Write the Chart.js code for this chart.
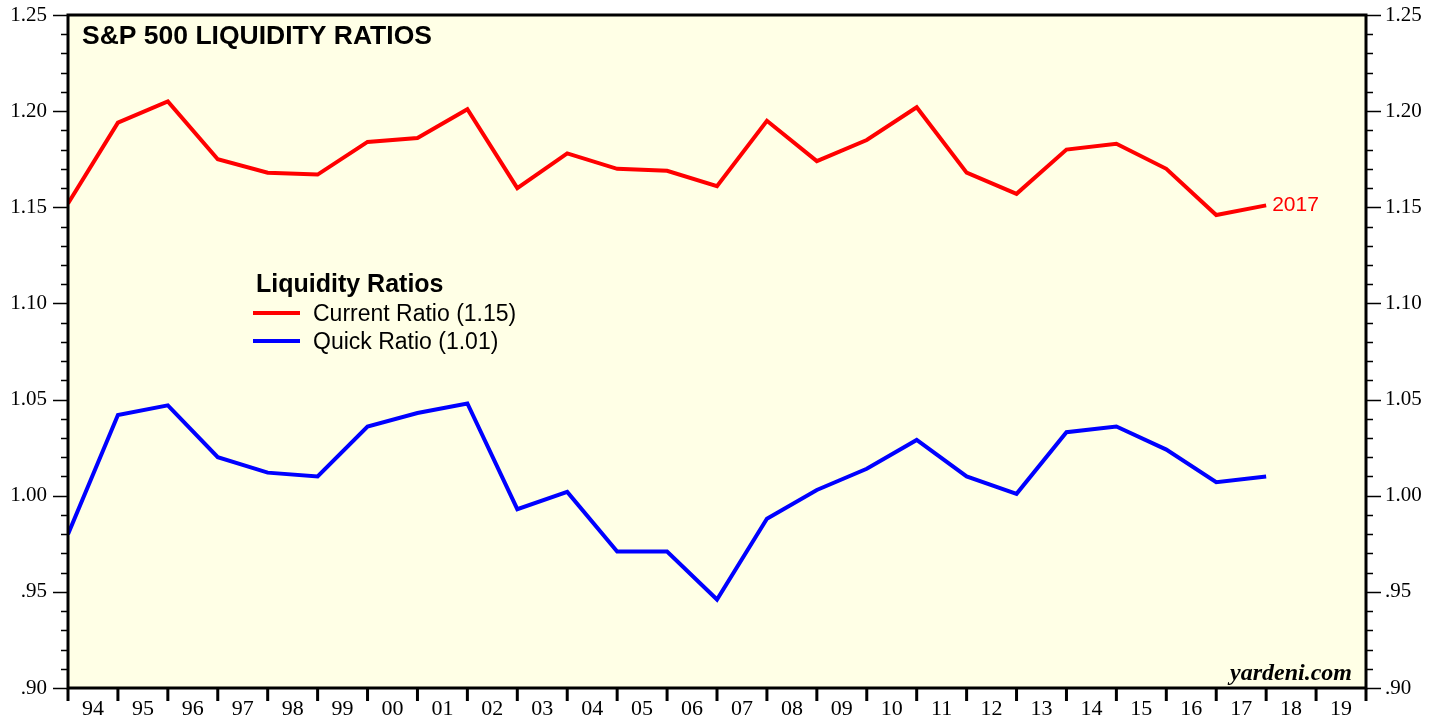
<!DOCTYPE html>
<html>
<head>
<meta charset="utf-8">
<script src="https://cdn.jsdelivr.net/npm/chart.js@4.4.0/dist/chart.umd.min.js"></script>
<style>
html,body{margin:0;padding:0;background:#fff;}
</style>
</head>
<body>
<canvas id="chart" width="1441" height="719"></canvas>
<script>
// year-end values, 1993 -> 2017
const years = [1993,1994,1995,1996,1997,1998,1999,2000,2001,2002,2003,2004,2005,2006,2007,2008,2009,2010,2011,2012,2013,2014,2015,2016,2017];
const currentRatio = [1.152,1.194,1.205,1.175,1.168,1.167,1.184,1.186,1.201,1.160,1.178,1.170,1.169,1.161,1.195,1.174,1.185,1.202,1.168,1.157,1.180,1.183,1.170,1.146,1.151];
const quickRatio = [0.980,1.042,1.047,1.020,1.012,1.010,1.036,1.043,1.048,0.993,1.002,0.971,0.971,0.946,0.988,1.003,1.014,1.029,1.010,1.001,1.033,1.036,1.024,1.007,1.010];
const xLabels = ['94','95','96','97','98','99','00','01','02','03','04','05','06','07','08','09','10','11','12','13','14','15','16','17','18','19'];
const yMin = 0.90, yMax = 1.25;

const serif = '"Liberation Serif", "DejaVu Serif", serif';
const sans = '"Liberation Sans", Arial, sans-serif';

//fondo, bordes, marcas y textos
const decor = {
  id: 'decor',
  beforeDraw(chart) {
    const {ctx, chartArea: a} = chart;
    ctx.save();
    ctx.fillStyle = 'rgb(255,255,230)';
    ctx.fillRect(a.left, a.top, a.right - a.left, a.bottom - a.top);
    ctx.restore();
  },
  afterDraw(chart) {
    const {ctx, chartArea: a} = chart;
    const y = chart.scales.y, x = chart.scales.x;
    ctx.save();
    ctx.strokeStyle = '#000';
    // y ticks, both sides
    ctx.lineWidth = 1.5;
    for (let i = 90; i <= 125; i++) {
      const py = Math.round(y.getPixelForValue(i / 100)) + 0.5;
      const len = i % 5 === 0 ? 15 : 7;
      ctx.beginPath();
      ctx.moveTo(a.left - len, py); ctx.lineTo(a.left, py);
      ctx.moveTo(a.right, py); ctx.lineTo(a.right + len, py);
      ctx.stroke();
    }
    // x ticks at year boundaries
    ctx.lineWidth = 3;
    for (let yr = 1994; yr <= 2020; yr++) {
      const px = x.getPixelForValue(yr);
      ctx.beginPath();
      ctx.moveTo(px, a.bottom); ctx.lineTo(px, a.bottom + 13);
      ctx.stroke();
    }
    // frame
    ctx.lineWidth = 3;
    ctx.strokeRect(a.left, a.top, a.right - a.left, a.bottom - a.top);

    ctx.fillStyle = '#000';
    ctx.textBaseline = 'alphabetic';
    ctx.font = 'bold 26.5px ' + sans;
    ctx.fillText('S&P 500 LIQUIDITY RATIOS', 82, 44);

    // legend
    ctx.font = 'bold 25px ' + sans;
    ctx.fillText('Liquidity Ratios', 256, 292);
    ctx.font = '23px ' + sans;
    const ds = chart.data.datasets;
    const rows = [313, 341];
    ds.forEach((d, i) => {
      ctx.strokeStyle = d.borderColor;
      ctx.lineWidth = 4;
      ctx.beginPath();
      ctx.moveTo(253, rows[i]); ctx.lineTo(300, rows[i]);
      ctx.stroke();
      ctx.fillStyle = '#000';
      ctx.fillText(d.label, 313, rows[i] + 8);
    });

    // last point label
    const last = ds[0].data[ds[0].data.length - 1];
    ctx.fillStyle = '#ff0000';
    ctx.font = '21px ' + sans;
    ctx.textBaseline = 'middle';
    ctx.fillText(String(years[years.length - 1]), x.getPixelForValue(last.x) + 6, y.getPixelForValue(last.y));

    ctx.fillStyle = '#000';
    ctx.textAlign = 'right';
    ctx.textBaseline = 'alphabetic';
    ctx.font = 'bold italic 24px ' + serif;
    ctx.fillText('yardeni.com', a.right - 14, a.bottom - 8);
    ctx.restore();
  }
};

const fmtY = v => { const s = v.toFixed(2); return v < 1 ? s.slice(1) : s; };

const yAxis = (pos, width, pad) => ({
  position: pos, min: yMin, max: yMax,
  ticks: {stepSize: 0.05, padding: pad, color: '#000', font: {family: serif, size: 21}, callback: fmtY},
  grid: {display: false, drawTicks: false, tickLength: 0},
  border: {display: false},
  afterFit: s => { s.width = width; s.paddingTop = 0; s.paddingBottom = 0; }
});

new Chart(document.getElementById('chart'), {
  type: 'line',
  data: {
    datasets: [
      {label: 'Current Ratio (1.15)', data: years.map((yr, i) => ({x: yr + 1, y: currentRatio[i]})), borderColor: '#ff0000'},
      {label: 'Quick Ratio (1.01)', data: years.map((yr, i) => ({x: yr + 1, y: quickRatio[i]})), borderColor: '#0000ff'}
    ]
  },
  options: {
    responsive: false,
    animation: false,
    layout: {padding: {top: 15, left: 0, right: 0, bottom: 0}},
    elements: {point: {radius: 0}, line: {tension: 0, borderWidth: 4, fill: false}},
    plugins: {legend: {display: false}, tooltip: {enabled: false}},
    scales: {
      x: {
        type: 'linear', min: 1994, max: 2020,
        afterBuildTicks: s => { s.ticks = xLabels.map((l, i) => ({value: 1994.5 + i})); },
        ticks: {autoSkip: false, maxRotation: 0, padding: 8, color: '#000', font: {family: serif, size: 22},
                callback: v => xLabels[Math.floor(v) - 1994]},
        grid: {display: false, drawTicks: false, tickLength: 0},
        border: {display: false},
        afterFit: s => { s.height = 31; s.paddingLeft = 0; s.paddingRight = 0; }
      },
      y: yAxis('left', 68, 21),
      y2: yAxis('right', 75, 19)
    }
  },
  plugins: [decor]
});
</script>
</body>
</html>
